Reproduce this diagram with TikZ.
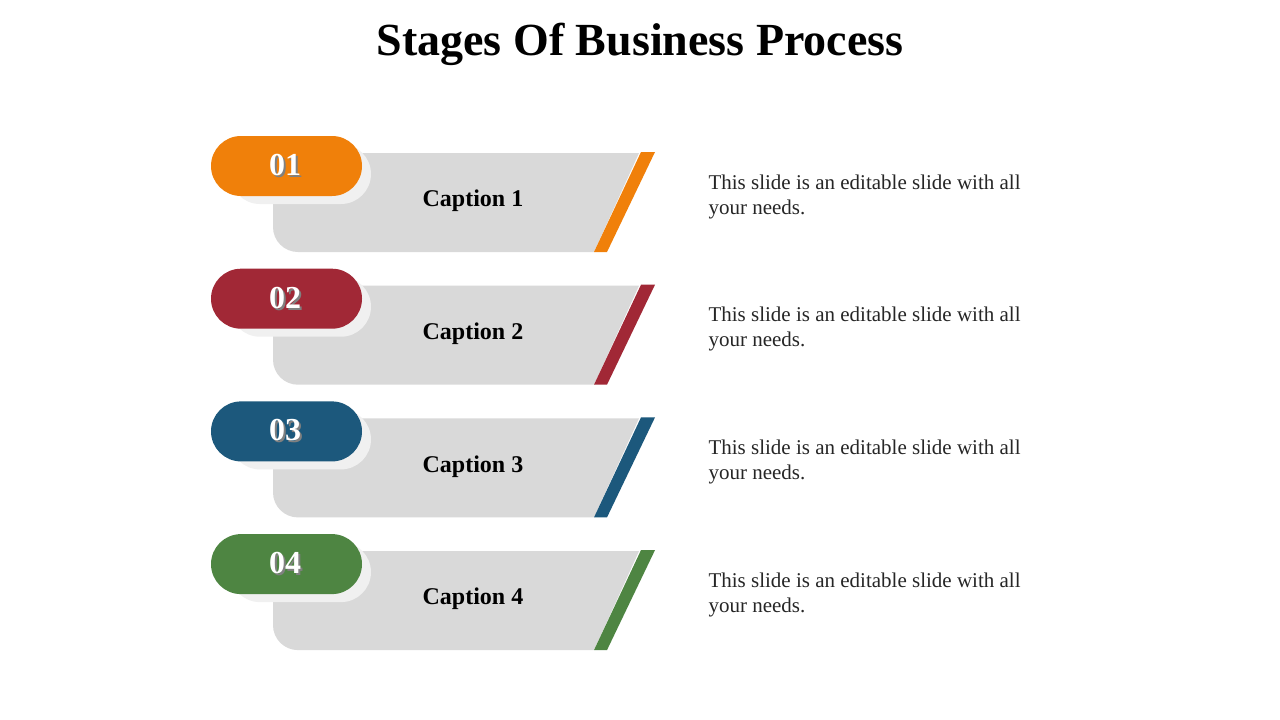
\documentclass[tikz,border=0pt]{standalone}
\usepackage{fontspec}
\setmainfont{Liberation Serif}
\definecolor{cA}{HTML}{F0800A}
\definecolor{cB}{HTML}{A12836}
\definecolor{cC}{HTML}{1C587C}
\definecolor{cD}{HTML}{4E8542}
\definecolor{gbox}{HTML}{D9D9D9}
\definecolor{halo}{HTML}{F0F0F0}
\tikzset{
  numtxt/.style={text=white,font=\bfseries\fontsize{32}{32}\selectfont},
  captxt/.style={font=\bfseries\fontsize{24}{24}\selectfont},
  desctxt/.style={font=\fontsize{21}{25}\selectfont,align=flush left,anchor=north west,text width=345pt,text=black!85},
}
\begin{document}
\begin{tikzpicture}[x=1pt,y=-1pt]
\useasboundingbox[fill=white] (0,0) rectangle (1280,720);
\node[font=\bfseries\fontsize{46}{46}\selectfont] (title) at (640,44) {Stages Of Business Process};
\foreach \i/\c/\n in {0/cA/01,1/cB/02,2/cC/03,3/cD/04}{
  \begin{scope}[yshift=-\i*132.7pt]
    \fill[gbox] (273,153) -- (639,153) -- (594,252) [rounded corners=25] -- (273,252) [sharp corners] -- cycle;
    \fill[\c] (641,152) -- (655,152) -- (607,252) -- (594,252) -- cycle;
    \fill[halo,rounded corners=30] (230,144) rectangle (371,204);
    \fill[\c,rounded corners=30] (211,136) rectangle (362,196);
    \node[numtxt,text=black!50] at (287,167) {\n};
    \node[numtxt] (n\i) at (285,165) {\n};
    \node[captxt] (c\i) at (473,201) {Caption \the\numexpr\i+1\relax};
    \node[desctxt] (d\i) at (705,171) {This slide is an editable slide with all your needs.};
  \end{scope}
}
\end{tikzpicture}
\end{document}
